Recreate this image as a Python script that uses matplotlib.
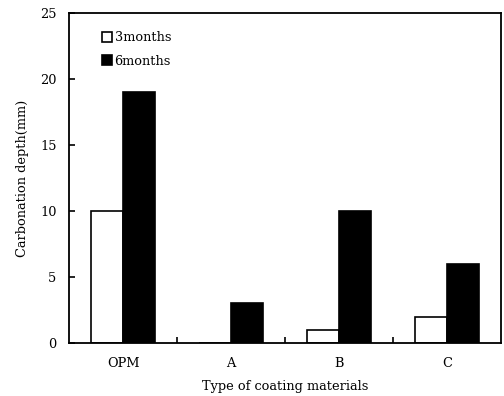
import numpy as np
import matplotlib.pyplot as plt

# Data
categories = ['OPM', 'A', 'B', 'C']
months3 = [10, 0, 1, 2]
months6 = [19, 3, 10, 6]

plt.rcParams['font.family'] = ['DejaVu Serif']
fs = 9.3

fig = plt.figure(figsize=(5.04, 3.96), dpi=100)
ax = fig.add_axes([0.137, 0.134, 0.857, 0.833])

x = np.arange(len(categories))
w = 0.296
ax.bar(x - w / 2, months3, w, color='white', edgecolor='black', linewidth=1.2, label='3months')
ax.bar(x + w / 2, months6, w, color='black', edgecolor='black', linewidth=1.2, label='6months')

ax.set_xlim(-0.5, len(categories) - 0.5)
ax.set_ylim(0, 25)
ax.set_yticks(np.arange(0, 26, 5))
ax.set_xticks(x)
ax.set_xticklabels(categories)
ax.set_xticks(x[:-1] + 0.5, minor=True)
ax.tick_params(axis='x', which='major', length=0, pad=10, labelsize=fs)
ax.tick_params(axis='x', which='minor', direction='in', length=4, width=1.2)
ax.tick_params(axis='y', direction='in', length=4, width=1.2, labelsize=fs, pad=9)

for s in ax.spines.values():
    s.set_linewidth(1.3)

ax.set_xlabel('Type of coating materials', fontsize=fs, labelpad=7)
ax.set_ylabel('Carbonation depth(mm)', fontsize=fs, labelpad=8)

ax.legend(loc='upper left', frameon=False, fontsize=fs, handlelength=0.75, handleheight=0.75,
          handletextpad=0.2, labelspacing=0.8, bbox_to_anchor=(0.05, 0.98))

fig.savefig('out.png', dpi=100)
